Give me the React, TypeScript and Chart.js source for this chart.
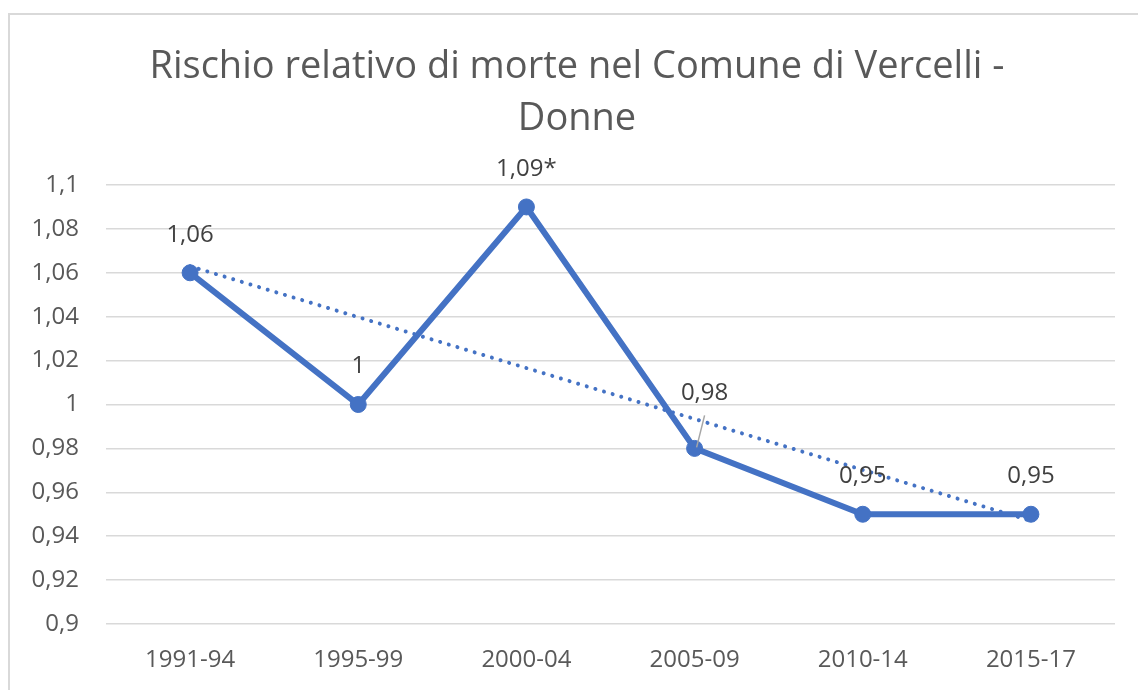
import React, { useEffect, useRef } from "react";
import { Chart, registerables } from "chart.js";

Chart.register(...registerables);

const titleLines = ["Rischio relativo di morte nel Comune di Vercelli -", "Donne"];
const categories = ["1991-94", "1995-99", "2000-04", "2005-09", "2010-14", "2015-17"];
const riskValues = [1.06, 1.0, 1.09, 0.98, 0.95, 0.95];
const labelSuffix = ["", "", "*", "", "", ""];
const trendValues = [1.063, null, null, null, null, 0.947];
const yMin = 0.9;
const yMax = 1.1;
const yStep = 0.02;

const FONT = "'Open Sans', 'Noto Sans', sans-serif";

const fmt = (v: number) => String(Number(v.toFixed(2))).replace(".", ",");

const dataLabelPlugin = {
  id: "dataLabels",
  afterDatasetsDraw(chart: any) {
    const meta = chart.getDatasetMeta(0);
    const ctx = chart.ctx;
    ctx.save();
    ctx.font = `24px ${FONT}`;
    ctx.fillStyle = "#404040";
    ctx.textAlign = "center";
    ctx.textBaseline = "middle";
    meta.data.forEach((pt: any, i: number) => {
      const text = fmt(riskValues[i]) + labelSuffix[i];
      let dx = 0;
      let dy = -38;
      if (i === 3) {
        dx = 10;
        dy = -55;
        ctx.save();
        ctx.strokeStyle = "#a6a6a6";
        ctx.lineWidth = 1.5;
        ctx.beginPath();
        ctx.moveTo(pt.x + 10, pt.y - 33);
        ctx.lineTo(pt.x + 2, pt.y - 1);
        ctx.stroke();
        ctx.restore();
      }
      ctx.fillText(text, pt.x + dx, pt.y + dy);
    });
    ctx.restore();
  },
};

export default function App() {
  const ref = useRef<HTMLCanvasElement | null>(null);

  useEffect(() => {
    if (!ref.current) return;
    const chart = new Chart(ref.current, {
      type: "line",
      data: {
        labels: categories,
        datasets: [
          {
            data: riskValues,
            borderColor: "#4472C4",
            backgroundColor: "#4472C4",
            borderWidth: 6,
            pointRadius: 8,
            pointBorderWidth: 1,
            pointBackgroundColor: "#4472C4",
            pointBorderColor: "#4472C4",
            tension: 0,
            order: 1,
          },
          {
            data: trendValues,
            spanGaps: true,
            borderColor: "#4472C4",
            borderWidth: 4,
            borderDash: [0.01, 9],
            borderCapStyle: "round",
            pointRadius: 0,
            fill: false,
            order: 2,
          },
        ],
      },
      options: {
        animation: false,
        responsive: false,
        devicePixelRatio: 1,
        layout: { padding: 0 },
        plugins: {
          legend: { display: false },
          tooltip: { enabled: false },
          title: {
            display: true,
            text: titleLines,
            color: "#595959",
            font: { family: FONT, size: 38, weight: "normal", lineHeight: 52 / 38 },
            padding: { top: 26, bottom: 40 },
          },
        },
        scales: {
          x: {
            offset: true,
            grid: { display: false, drawTicks: false },
            border: { display: false },
            ticks: {
              color: "#595959",
              font: { family: FONT, size: 24 },
              padding: 22,
              maxRotation: 0,
            },
            afterFit: (s: any) => {
              s.height = 66;
            },
          },
          y: {
            min: yMin,
            max: yMax,
            grid: { color: "#d9d9d9", lineWidth: 1.5, drawTicks: false },
            border: { display: false },
            ticks: {
              stepSize: yStep,
              color: "#595959",
              font: { family: FONT, size: 24 },
              padding: 27,
              callback: (v: any) => fmt(Number(v)),
            },
            afterFit: (s: any) => {
              s.width = 96;
            },
          },
          ySpacer: {
            position: "right",
            min: yMin,
            max: yMax,
            grid: { display: false, drawTicks: false },
            border: { display: false },
            ticks: { display: false },
            afterFit: (s: any) => {
              s.width = 29;
            },
          },
        },
      },
      plugins: [dataLabelPlugin],
    });
    return () => chart.destroy();
  }, []);

  return (
    <div style={{ position: "fixed", inset: 0, overflow: "hidden", background: "#fff" }}>
      <div
        style={{
          position: "absolute",
          left: 8,
          top: 13,
          width: 1300,
          height: 800,
          border: "2px solid #d9d9d9",
          background: "#fff",
        }}
      >
        <canvas ref={ref} width={1134} height={675} style={{ display: "block" }} />
      </div>
    </div>
  );
}
